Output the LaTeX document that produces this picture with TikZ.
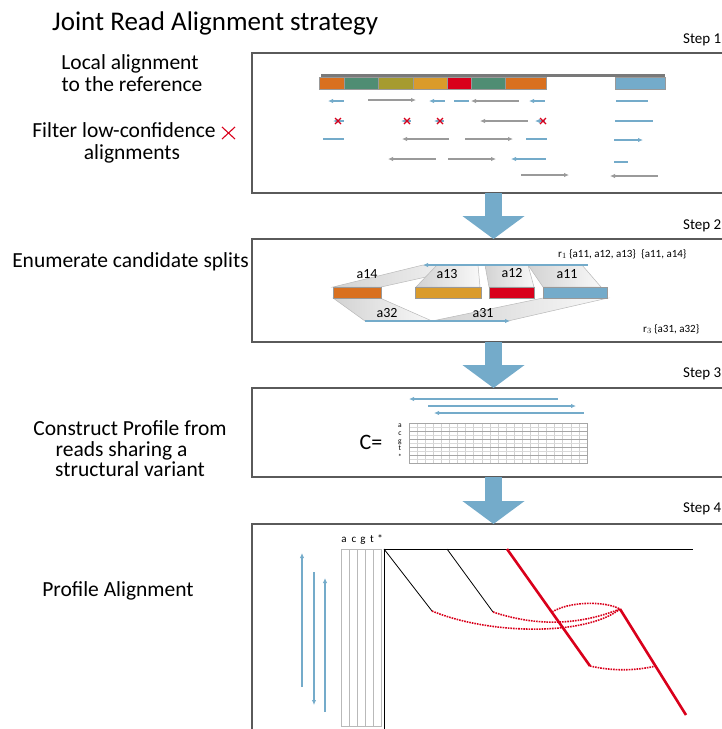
\documentclass[tikz,border=0pt]{standalone}
\usepackage{fontspec}
\setmainfont{Carlito}
\usetikzlibrary{arrows.meta}
\definecolor{cblue}{HTML}{74ABCA}
\definecolor{corange}{HTML}{D9701F}
\definecolor{cgreen}{HTML}{4F8D73}
\definecolor{colive}{HTML}{A69B2F}
\definecolor{cgold}{HTML}{DA9B2B}
\definecolor{cred}{HTML}{D9001B}
\definecolor{cgray}{HTML}{9A9A9A}
\definecolor{cframe}{HTML}{5A5A5A}
\begin{document}
\begin{tikzpicture}[x=1pt,y=-1pt,
  frame/.style={draw=cframe,line width=1.6pt,rectangle,inner sep=0pt,outer sep=0pt,anchor=north west,minimum width=483pt},
  bigarrow/.style={cblue,line width=17pt,-{Triangle[length=23pt,width=61pt]}},
  lbl/.style={font=\fontsize{21.5}{25}\selectfont,anchor=base,inner sep=0pt},
  steplbl/.style={font=\fontsize{15}{17}\selectfont,anchor=base west,inner sep=0pt},
  bread/.style={cblue,line width=1.3pt},
  gread/.style={cgray,line width=1.3pt},
  rt/.style={-{Latex[length=5pt,width=4.5pt]}},
  lt/.style={{Latex[length=5pt,width=4.5pt]}-},
  xmark/.style={cred,line width=1.1pt},
  seg/.style={draw=gray!80,line width=0.6pt},
  band/.style={draw=gray!55,line width=0.5pt,left color=gray!35,right color=gray!5},
  alab/.style={font=\fontsize{14}{16}\selectfont,inner sep=0pt},
  rlab/.style={font=\fontsize{11}{13}\selectfont,anchor=base west,inner sep=0pt},
  dotr/.style={cred,line width=1.6pt,dash pattern=on 1.6pt off 1pt},
  profarrow/.style={cblue,line width=1.5pt},
  colgrid/.style={draw=gray!55,line width=0.8pt}
]
\useasboundingbox (0,0) rectangle (721,729);

% title
\node[anchor=base west,inner sep=0pt,font=\fontsize{27}{31}\selectfont] (title) at (52,30) {Joint Read Alignment strategy};

% left labels
\node[lbl] (t1a) at (130,69) {Local alignment};
\node[lbl] (t1b) at (132,91) {to the reference};
\node[lbl] (t1c) at (124,137) {Filter low-confidence};
\node[lbl] (t1d) at (132,159) {alignments};
\draw[cred,line width=1.1pt] (222,127) -- (235,139) (222,139) -- (235,127);
\node[lbl] (t2) at (130.5,267) {Enumerate candidate splits};
\node[lbl] (t3a) at (130,435) {Construct Profile from};
\node[lbl] (t3b) at (121.5,456) {reads sharing a};
\node[lbl] (t3c) at (130,476) {structural variant};
\node[lbl] (t4) at (118,596) {Profile Alignment};

% step labels
\node[steplbl] (st1) at (683,43) {Step 1};
\node[steplbl] (st2) at (683,229) {Step 2};
\node[steplbl] (st3) at (683,377) {Step 3};
\node[steplbl] (st4) at (683,512) {Step 4};

% boxes
\node[frame,minimum height=140pt] (s1) at (252,53) {};
\node[frame,minimum height=103pt] (s2) at (252,239) {};
\node[frame,minimum height=89pt] (s3) at (252,388) {};
\node[frame,minimum height=220pt] (s4) at (252,524) {};

% big arrows
\draw[bigarrow] (s1.south) -- (s2.north);
\draw[bigarrow] (s2.south) -- (s3.north);
\draw[bigarrow] (s3.south) -- (s4.north);

% ---------- Step 1 ----------
\draw[gray!95!black,line width=3pt] (321,75) -- (665,75);
\fill[corange,seg] (319,77) rectangle (344,89);
\fill[cgreen,seg] (344,77) rectangle (378,89);
\fill[colive,seg] (378,77) rectangle (413,89);
\fill[cgold,seg] (413,77) rectangle (447,89);
\fill[cred,seg] (447,77) rectangle (471,89);
\fill[cgreen,seg] (471,77) rectangle (505,89);
\fill[corange,seg] (505,77) rectangle (546,89);
\fill[cblue,seg] (615,77) rectangle (665,89);
% row 1
\draw[bread,lt] (328,101) -- (344,101);
\draw[gread,rt] (368,100) -- (416,100);
\draw[bread,lt] (429,101) -- (445,101);
\draw[bread] (454,101) -- (469,101);
\draw[gread,lt] (471,101) -- (519,101);
\draw[bread,lt] (529,101) -- (545,101);
\draw[bread] (616,101) -- (648,101);
% row 2
\draw[bread,lt] (333,121) -- (344,121);
\draw[bread,lt] (401,121) -- (411,121);
\draw[bread,lt] (434,121) -- (444,121);
\draw[gread,lt] (480,121) -- (528,121);
\draw[bread,lt] (535,121) -- (545,121);
\draw[bread] (615,121) -- (653,121);
\foreach \cx in {338,407,440,543}{
  \draw[xmark] (\cx-3,118) -- (\cx+3,124) (\cx-3,124) -- (\cx+3,118);
}
% row 3
\draw[bread] (323,139) -- (344,139);
\draw[gread,lt] (402,139) -- (449,139);
\draw[gread,rt] (465,139) -- (513,139);
\draw[bread] (526,139) -- (547,139);
\draw[bread,rt] (614,140) -- (643,140);
% row 4
\draw[gread,lt] (388,159) -- (436,159);
\draw[gread,rt] (448,159) -- (496,159);
\draw[bread,lt] (511,159) -- (546,159);
\draw[bread] (614,162) -- (628,162);
% row 5
\draw[gread,rt] (521,175) -- (569,175);
\draw[gread,lt] (610,176) -- (658,176);

% ---------- Step 2 ----------
\draw[band] (333,287) -- (381,287) -- (480,265) -- (423,265) -- cycle;
\draw[band] (416,287) -- (480,287) -- (478,265) -- (437,265) -- cycle;
\draw[band] (489,287) -- (534,287) -- (528,265) -- (485,265) -- cycle;
\draw[band] (543,287) -- (601,287) -- (582,265) -- (528,265) -- cycle;
\draw[band] (333,298) -- (380,298) -- (432,321) -- (365,321) -- cycle;
\draw[band] (543,298) -- (608,298) -- (508,321) -- (432,321) -- cycle;
\fill[corange,seg] (333,287) rectangle (381,298);
\fill[cgold,seg] (415,287) rectangle (481,298);
\fill[cred,seg] (489,287) rectangle (534,298);
\fill[cblue,seg] (543,287) rectangle (607,298);
\draw[cblue,line width=1.6pt,lt] (423,265) -- (588,265);
\draw[cblue,line width=1.6pt,rt] (365,321) -- (510,321);
\node[alab] (a14) at (367,274) {a14};
\node[alab] (a13) at (447,274) {a13};
\node[alab] (a12) at (512,273) {a12};
\node[alab] (a11) at (567,274) {a11};
\node[alab] (a32) at (387,313) {a32};
\node[alab] (a31) at (483,313) {a31};
\node[rlab] (r1) at (558,257) {$\mathrm{r}_1$ \{a11, a12, a13\}\hspace{0.5em}\{a11, a14\}};
\node[rlab] (r3) at (643,332) {$\mathrm{r}_3$ \{a31, a32\}};

% ---------- Step 3 ----------
\draw[cblue,line width=1.5pt,lt] (409,399) -- (558,399);
\draw[cblue,line width=1.5pt,rt] (428,406) -- (576,406);
\draw[cblue,line width=1.5pt,lt] (434,413) -- (584,413);
\foreach \i in {1,...,21}{
  \draw[gray!35,line width=0.5pt] (409+\i*8.0909,423) -- (409+\i*8.0909,463);
}
\foreach \yy in {427,435,443,451,459}{
  \draw[gray!30,line width=0.4pt] (409,\yy) -- (587,\yy);
}
\foreach \yy in {431,439,447,455}{
  \draw[gray!70,line width=0.8pt] (409,\yy) -- (587,\yy);
}
\draw[gray!70,line width=0.8pt] (409,423) rectangle (587,463);
\foreach \ch/\yy in {a/427,c/435,g/443,t/450,{*}/459}{
  \node[font=\fontsize{7.5}{7.5}\selectfont,inner sep=0pt,anchor=base] at (400,\yy) {\ch};
}
\node[font=\fontsize{22}{25}\selectfont,inner sep=0pt] (ceq) at (371,442) {C=};

% ---------- Step 4 ----------
\foreach \ch/\xx in {a/344,c/354,g/363,t/372,{*}/380}{
  \node[font=\fontsize{11}{11}\selectfont,inner sep=0pt,anchor=base] at (\xx,542) {\ch};
}
\draw[colgrid] (341,549) rectangle (381,726);
\foreach \xx in {349,357,365,373}{
  \draw[colgrid] (\xx,549) -- (\xx,726);
}
\draw[black,line width=1pt] (384,729) -- (384,549) -- (693,549);
\draw[black,line width=0.8pt] (384,549) -- (432,611);
\draw[black,line width=0.8pt] (447,549) -- (493,612);
\draw[dotr] (432,611) .. controls (490,635) and (586,636) .. (620,609);
\draw[dotr] (493,612) .. controls (535,626) and (577,626) .. (620,609);
\draw[dotr] (552,612) .. controls (570,601) and (605,601) .. (620,609);
\draw[dotr] (590,666) .. controls (612,671) and (634,671) .. (656,666);
\draw[cred,line width=2.6pt] (507,549) -- (590,666);
\draw[cred,line width=2.6pt] (620,609) -- (686,715);
\draw[profarrow,rt] (302,687) -- (302,553);
\draw[profarrow,rt] (314,572) -- (314,705);
\draw[profarrow,rt] (325,712) -- (325,578);
\end{tikzpicture}
\end{document}
